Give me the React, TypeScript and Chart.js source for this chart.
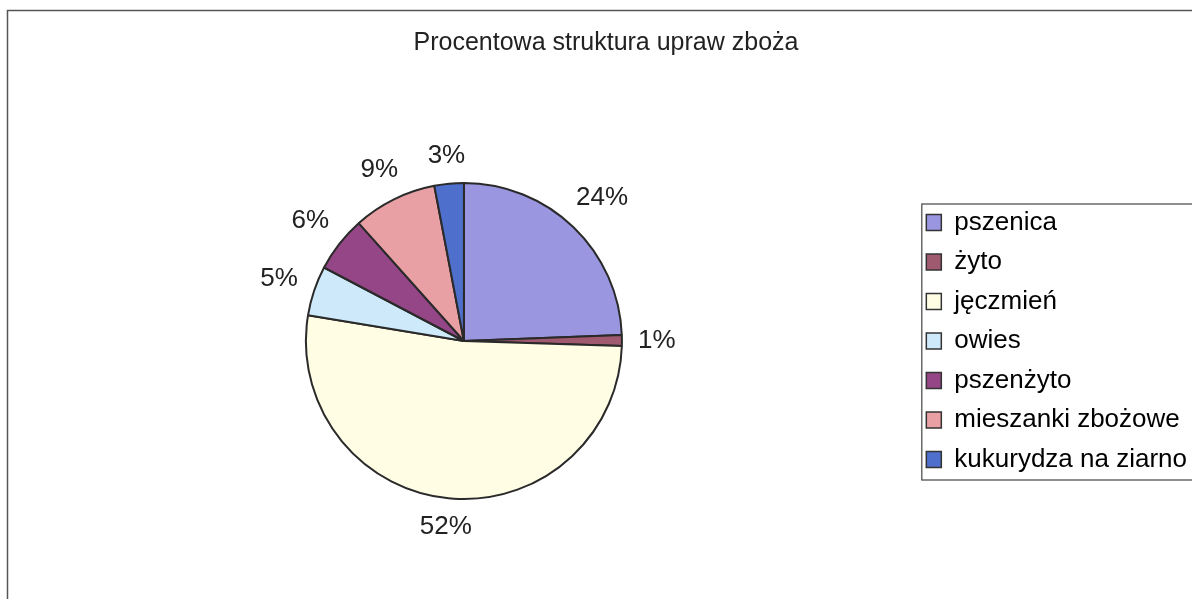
import React, { useEffect, useRef } from "react";
import { Chart, registerables } from "chart.js";

Chart.register(...registerables);

const title = "Procentowa struktura upraw zboża";
const categories = [
  "pszenica",
  "żyto",
  "jęczmień",
  "owies",
  "pszenżyto",
  "mieszanki zbożowe",
  "kukurydza na ziarno",
];
const shares = [24.4, 1.1, 52.1, 5.1, 5.7, 8.6, 3.0];
const colors = ["#9a96e0", "#a05a70", "#fffde4", "#cde9fa", "#944686", "#e8a0a4", "#4f6fcc"];

const FONT = "'Liberation Sans', Arial, sans-serif";

const framePlugin = {
  id: "frame",
  beforeDraw(chart: any) {
    const ctx = chart.ctx;
    ctx.save();
    ctx.fillStyle = "#ffffff";
    ctx.fillRect(0, 0, chart.width, chart.height);
    ctx.strokeStyle = "#555555";
    ctx.lineWidth = 1.5;
    ctx.beginPath();
    ctx.moveTo(7.5, chart.height + 2);
    ctx.lineTo(7.5, 10.5);
    ctx.lineTo(chart.width + 2, 10.5);
    ctx.stroke();
    ctx.restore();
  },
  afterDraw(chart: any) {
    const lg = chart.legend;
    if (!lg || !lg.legendHitBoxes || !lg.legendHitBoxes.length) return;
    const boxes = lg.legendHitBoxes;
    const first = boxes[0];
    const last = boxes[boxes.length - 1];
    const ctx = chart.ctx;
    ctx.save();
    ctx.strokeStyle = "#444444";
    ctx.lineWidth = 1.2;
    const l = first.left - 5;
    const t = first.top - 6;
    const b = last.top + last.height + 7;
    ctx.strokeRect(l + 0.5, t + 0.5, chart.width + 10 - l, b - t);
    ctx.restore();
  },
};

const labelPlugin = {
  id: "pctLabels",
  afterDatasetsDraw(chart: any) {
    const meta = chart.getDatasetMeta(0);
    const data = chart.data.datasets[0].data as number[];
    const total = data.reduce((a, b) => a + b, 0);
    const ctx = chart.ctx;
    ctx.save();
    ctx.font = `26px ${FONT}`;
    ctx.fillStyle = "#222222";
    ctx.textAlign = "center";
    ctx.textBaseline = "middle";
    meta.data.forEach((arc: any, i: number) => {
      const { x, y, startAngle, endAngle, outerRadius } = arc.getProps(
        ["x", "y", "startAngle", "endAngle", "outerRadius"],
        true
      );
      const mid = (startAngle + endAngle) / 2;
      const text = Math.round((data[i] / total) * 100) + "%";
      const w = ctx.measureText(text).width;
      const h = 20;
      const c = Math.cos(mid);
      const s = Math.sin(mid);
      const d = outerRadius + 16 + Math.abs(c) * (w / 2) + Math.abs(s) * (h / 2);
      ctx.fillText(text, x + c * d, y + s * d);
    });
    ctx.restore();
  },
};

export default function App() {
  const ref = useRef<HTMLCanvasElement>(null);
  useEffect(() => {
    if (!ref.current) return;
    const chart = new Chart(ref.current, {
      type: "pie",
      data: {
        labels: categories,
        datasets: [
          {
            data: shares,
            backgroundColor: colors,
            borderColor: "#2a2a2a",
            borderWidth: 2,
            radius: 158,
          },
        ],
      },
      options: {
        animation: false,
        responsive: false,
        maintainAspectRatio: false,
        layout: { padding: { top: 0, bottom: 7, left: 15, right: -5 } },
        plugins: {
          title: {
            display: true,
            text: title,
            color: "#222222",
            font: { family: FONT, size: 25, weight: "normal" },
            padding: { top: 28, bottom: 32 },
          },
          legend: {
            display: true,
            position: "right",
            fullSize: false,
            labels: {
              boxWidth: 15,
              boxHeight: 16,
              padding: 13.5,
              color: "#111111",
              font: { family: FONT, size: 26 },
              generateLabels: (ch: any) =>
                ch.data.labels.map((lab: string, i: number) => ({
                  text: lab,
                  fillStyle: colors[i],
                  strokeStyle: "#333333",
                  lineWidth: 1.5,
                  hidden: false,
                  index: i,
                })),
            },
          },
          tooltip: { enabled: false },
        },
      },
      plugins: [framePlugin, labelPlugin],
    });
    return () => chart.destroy();
  }, []);
  return (
    <div style={{ position: "absolute", left: 0, top: 0, width: 1192, height: 599, background: "#fff" }}>
      <canvas ref={ref} width={1192} height={599} style={{ width: 1192, height: 599, display: "block" }} />
    </div>
  );
}
